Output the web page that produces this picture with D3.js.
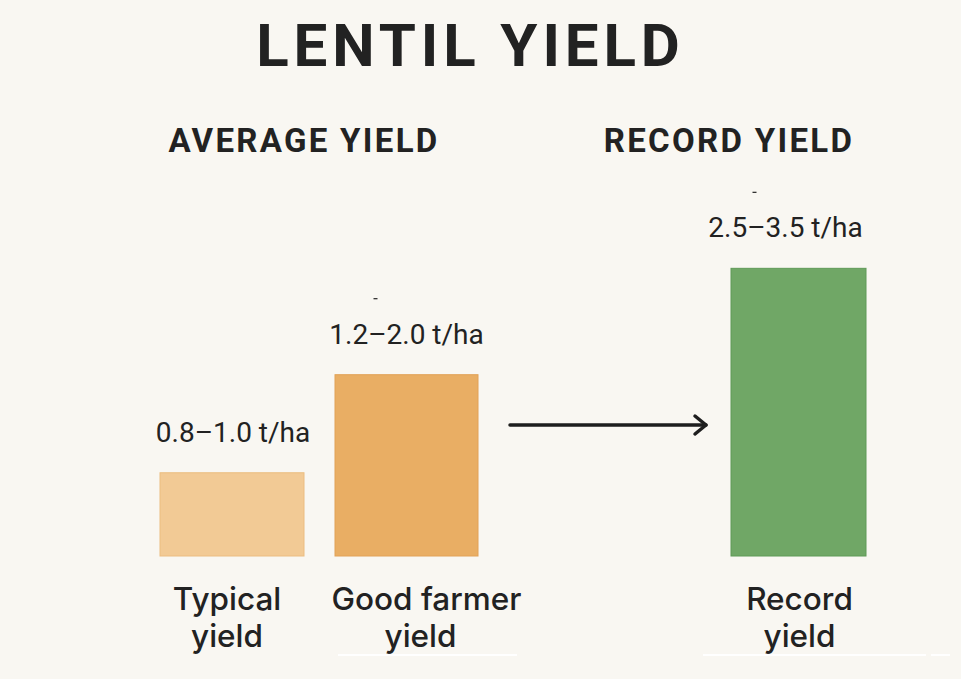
<!DOCTYPE html>
<html>
<head>
<meta charset="utf-8">
<script src="https://cdn.jsdelivr.net/npm/d3@7"></script>
<style>
  html, body { margin: 0; padding: 0; background: #f9f7f2; }
  svg { display: block; }
</style>
</head>
<body>
<svg id="chart" width="961" height="679"></svg>
<script>
// ---- data ----
const title = "LENTIL YIELD";
const groupTitles = ["AVERAGE YIELD", "RECORD YIELD"];
const categories = ["Typical yield", "Good farmer yield", "Record yield"];
const categoryLines = [["Typical", "yield"], ["Good farmer", "yield"], ["Record", "yield"]];
const rangeLabels = ["0.8–1.0 t/ha", "1.2–2.0 t/ha", "2.5–3.5 t/ha"];
const barValues = [0.9, 1.96, 3.11]; // estimated drawn bar heights, t/ha
const barColors = ["#f2ca95", "#e9ae64", "#70a766"];
const barEdge = ["#ecbd80", "#e2a256", "#5f9a57"];

// ---- layout ----
const W = 961, H = 679;
const baseY = 556;
const svg = d3.select("#chart");
svg.append("rect").attr("width", W).attr("height", H).attr("fill", "#f9f7f2");

const y = d3.scaleLinear().domain([0, 3.5]).range([baseY, baseY - 3.5 * 92.5]);
const xLeft = d3.scaleOrdinal().domain(categories).range([160, 335, 731]);
const xWidth = d3.scaleOrdinal().domain(categories).range([144, 143, 135]);
const xCenter = c => xLeft(c) + xWidth(c) / 2;

const ink = "#222222";
const font = "Roboto, 'Noto Sans', sans-serif";
const labelFont = "Inter, Roboto, sans-serif";

// title
svg.append("text")
  .attr("x", 470.5).attr("y", 66)
  .attr("text-anchor", "middle")
  .attr("font-family", font).attr("font-weight", 700)
  .attr("font-size", 60).attr("letter-spacing", 4.9)
  .attr("fill", ink)
  .text(title);

// group titles
const groupX = d3.scaleOrdinal().domain(groupTitles).range([304, 729]);
svg.selectAll("text.group").data(groupTitles).join("text")
  .attr("class", "group")
  .attr("x", d => groupX(d)).attr("y", 152)
  .attr("text-anchor", "middle")
  .attr("font-family", font).attr("font-weight", 700)
  .attr("font-size", 33).attr("letter-spacing", 2.3)
  .attr("fill", ink)
  .text(d => d);

// bars
svg.selectAll("rect.bar").data(categories).join("rect")
  .attr("class", "bar")
  .attr("x", d => xLeft(d))
  .attr("y", (d, i) => y(barValues[i]))
  .attr("width", d => xWidth(d))
  .attr("height", (d, i) => y(0) - y(barValues[i]))
  .attr("fill", (d, i) => barColors[i])
  .attr("stroke", (d, i) => barEdge[i])
  .attr("stroke-width", 1);

// range labels above bars
const labelShift = [1, 0, -13];
svg.selectAll("text.range").data(categories).join("text")
  .attr("class", "range")
  .attr("x", (d, i) => xCenter(d) + labelShift[i])
  .attr("y", (d, i) => y(barValues[i]) - 31)
  .attr("text-anchor", "middle")
  .attr("font-family", font).attr("font-weight", 400)
  .attr("font-size", 28)
  .attr("fill", ink)
  .text((d, i) => rangeLabels[i]);

// small dash marks above the upper two labels
[1, 2].forEach(i => {
  const c = categories[i];
  const ty = y(barValues[i]) - 76;
  svg.append("line")
    .attr("x1", xCenter(c) + labelShift[i] - 33).attr("x2", xCenter(c) + labelShift[i] - 29)
    .attr("y1", ty).attr("y2", ty)
    .attr("stroke", ink).attr("stroke-width", 1.2);
});

// category labels
const catShift = [-5, 20, 1];
categories.forEach((c, i) => {
  const t = svg.append("text")
    .attr("text-anchor", "middle")
    .attr("font-family", labelFont).attr("font-weight", 500)
    .attr("font-size", 31.5)
    .attr("fill", ink);
  categoryLines[i].forEach((line, j) => {
    t.append("tspan")
      .attr("x", xCenter(c) + catShift[i] - (i === 1 && j === 1 ? 6 : 0))
      .attr("y", 610 + j * 37)
      .text(line);
  });
});

// arrow between groups
const ax1 = xLeft(categories[1]) + xWidth(categories[1]) + 32;
const ax2 = xLeft(categories[2]) - 25;
const ay = 425;
svg.append("line")
  .attr("x1", ax1).attr("x2", ax2).attr("y1", ay).attr("y2", ay)
  .attr("stroke", "#1e1e1e").attr("stroke-width", 3.5).attr("stroke-linecap", "round");
svg.append("path")
  .attr("d", d3.line()([[ax2 - 11, ay - 9], [ax2, ay], [ax2 - 11, ay + 9]]))
  .attr("fill", "none").attr("stroke", "#1e1e1e").attr("stroke-width", 3.5)
  .attr("stroke-linecap", "round").attr("stroke-linejoin", "round");

// faint white strokes along the bottom
[[338, 517], [703, 926], [931, 950]].forEach(([a, b]) => {
  svg.append("line").attr("x1", a).attr("x2", b).attr("y1", 655).attr("y2", 655)
    .attr("stroke", "#ffffff").attr("stroke-width", 2);
});
</script>
</body>
</html>
